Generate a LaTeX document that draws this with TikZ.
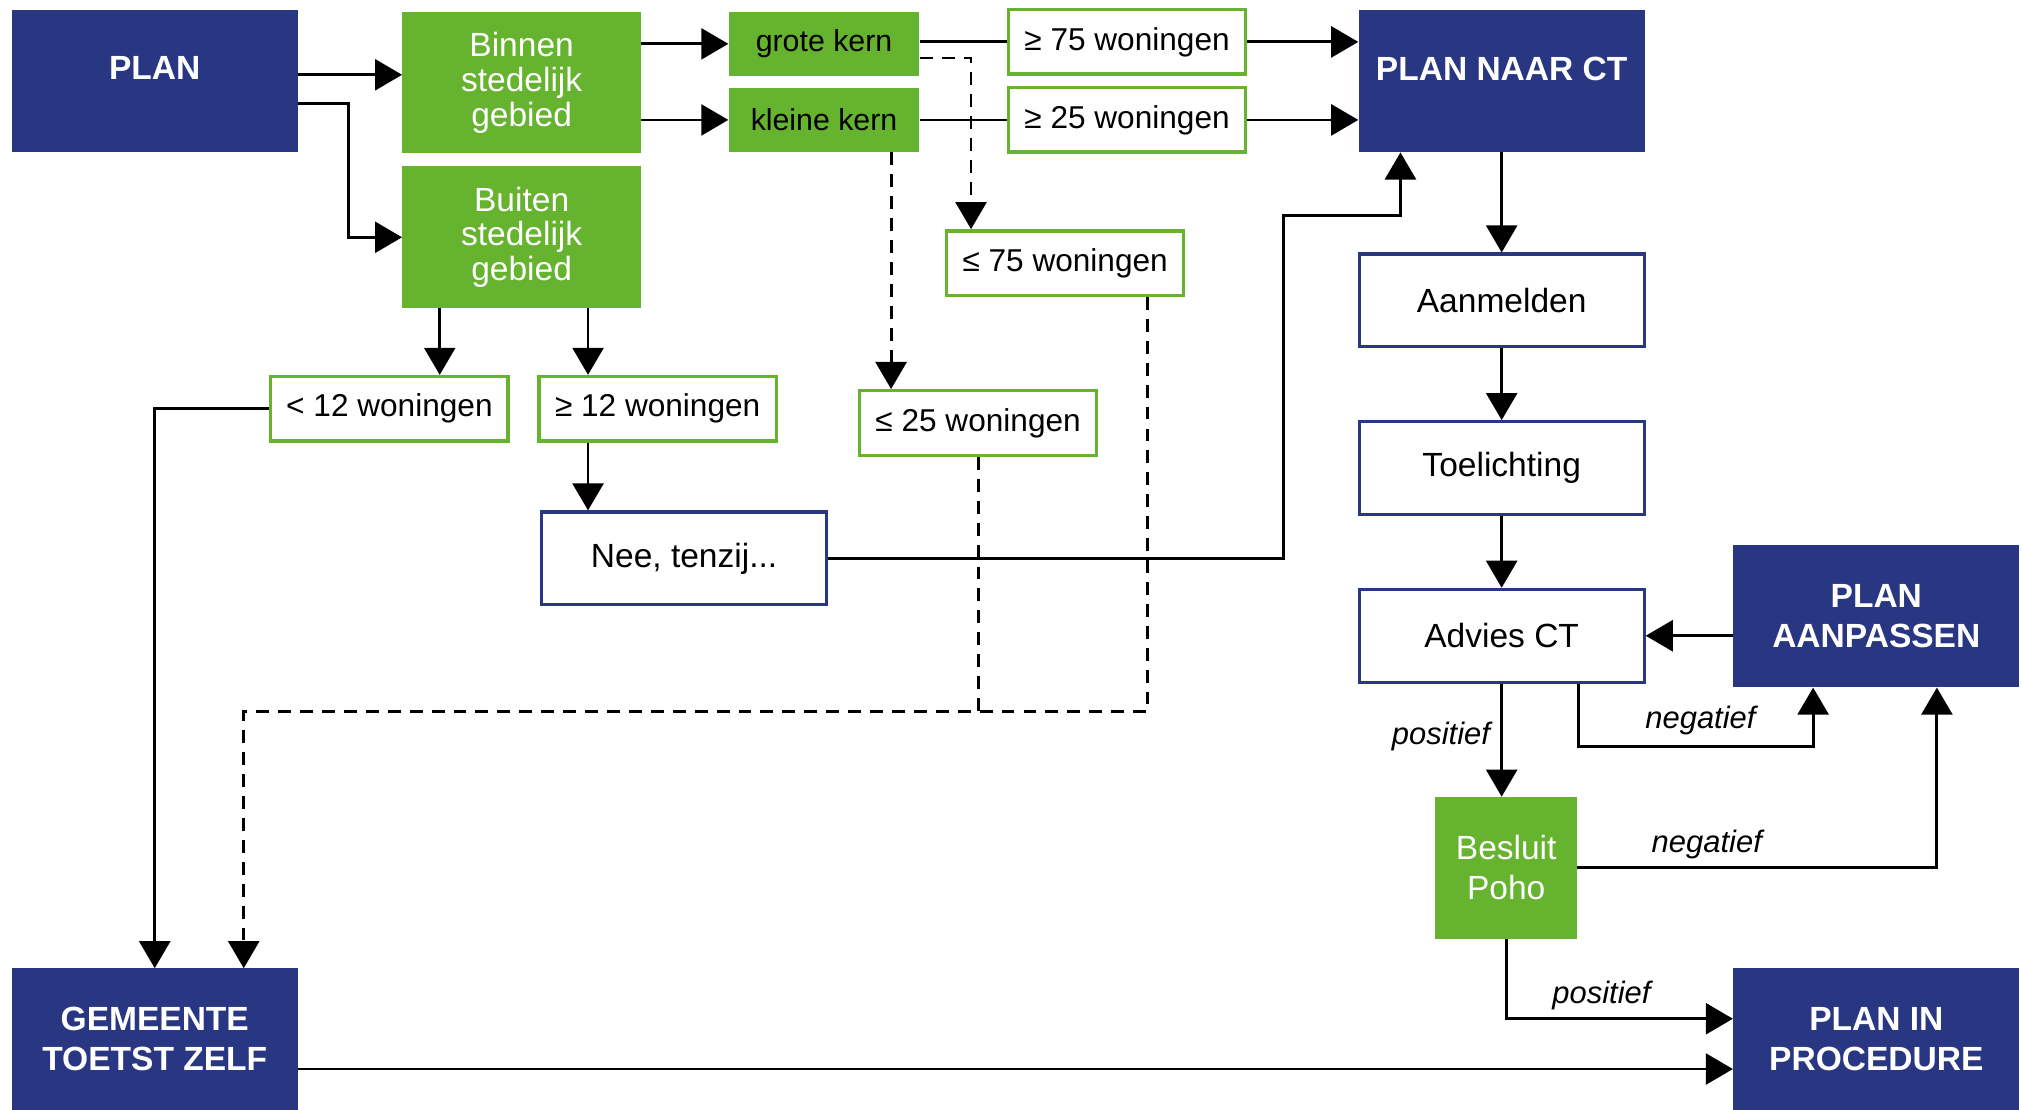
\documentclass[tikz,border=0pt]{standalone}
\usepackage{fontspec}
\setmainfont{Liberation Sans}
\usetikzlibrary{arrows.meta}
\definecolor{ctblue}{RGB}{41,54,130}
\definecolor{ctgreen}{RGB}{101,179,46}

\begin{document}
\begin{tikzpicture}[x=1pt,y=-1pt]
	\tikzset{
		fullblue/.style={fill=ctblue, text=white, minimum width=222pt, minimum height=110pt, inner sep=0pt, align=center, font=\fontsize{26}{31}\selectfont\bfseries},
		fullgreen/.style={fill=ctgreen, text=white, minimum width=185pt, minimum height=110pt, inner sep=0pt, align=center, font=\fontsize{26}{27}\selectfont},
		kern/.style={fill=ctgreen, minimum width=148pt, minimum height=50pt, inner sep=0pt, font=\fontsize{23.5}{27}\selectfont},
		count/.style={draw=ctgreen, line width=2.6pt, fill=white, minimum width=184pt, minimum height=50pt, inner sep=0pt, font=\fontsize{24.5}{28}\selectfont},
		stap/.style={draw=ctblue, line width=2.4pt, fill=white, minimum width=221pt, minimum height=72pt, inner sep=0pt, font=\fontsize{26}{30}\selectfont},
		lijn/.style={line width=2.2pt},
		arr/.style={lijn, -{Triangle[length=21pt, width=24pt]}},
		stip/.style={lijn, dash pattern=on 10pt off 7pt},
		oordeel/.style={font=\fontsize{24}{28}\selectfont\itshape, inner sep=0pt}
	}
	\useasboundingbox (0,0) rectangle (1568,860);
	
	% Plan en gebied
	\node[fullblue, text depth=20pt] (plan) at (120,63) {PLAN};
	\node[fullgreen] (binnen) at (404.5,64) {Binnen\\stedelijk\\gebied};
	\node[fullgreen] (buiten) at (404.5,184) {Buiten\\stedelijk\\gebied};
	\node[kern] (grote) at (639,34) {grote kern};
	\node[kern] (kleine) at (639,93) {kleine kern};
	
	% Aantallen woningen
	\node[count] (ge75) at (874,32.5) {≥ 75 woningen};
	\node[count] (ge25) at (874,93) {≥ 25 woningen};
	\node[count] (le75) at (826,204) {≤ 75 woningen};
	\node[count] (lt12) at (302,317) {< 12 woningen};
	\node[count] (ge12) at (510,317) {≥ 12 woningen};
	\node[count] (le25) at (758.5,328) {≤ 25 woningen};
	\node[stap] (nee) at (530.5,433) {Nee, tenzij...};
	
	% Commissie
	\node[fullblue, text depth=20pt] (pnct) at (1164.5,63) {PLAN NAAR CT};
	\foreach \t/\n [count=\i] in {Aanmelden/aanm, Toelichting/toel, Advies CT/advies}{
		\node[stap] (\n) at (1164.5,103+130*\i) {\t};
	}
	\node[fullblue] (aanp) at (1455,478) {PLAN\\AANPASSEN};
	\node[fullgreen, minimum width=110pt, font=\fontsize{26}{31}\selectfont] (besluit) at (1168,673) {Besluit\\Poho};
	\node[fullblue] (gem) at (120,806) {GEMEENTE\\TOETST ZELF};
	\node[fullblue] (proc) at (1455,806) {PLAN IN\\PROCEDURE};
	
	% Verbindingen links
	\draw[arr] (plan.east |- 0,58) -- (binnen.west |- 0,58);
	\draw[arr] (plan.east |- 0,80) -- (270,80) |- (buiten.west);
	\draw[arr] (binnen.east |- grote.west) -- (grote.west);
	\draw[arr] (binnen.east |- kleine.west) -- (kleine.west);
	\draw[lijn] (grote.east |- ge75.west) -- (ge75.west);
	\draw[arr] (ge75.east) -- (ge75.east -| pnct.west);
	\draw[lijn] (kleine.east) -- (ge25.west);
	\draw[arr] (ge25.east) -- (ge25.east -| pnct.west);
	\draw[stip, -{Triangle[length=21pt, width=24pt]}] (grote.east |- 0,45) -| (753,0 |- le75.north);
	\draw[stip, -{Triangle[length=21pt, width=24pt]}] (kleine.south -| 691,0) -- (691,0 |- le25.north);
	\draw[arr] (341,0 |- buiten.south) -- (341,0 |- lt12.north);
	\draw[arr] (456,0 |- buiten.south) -- (456,0 |- ge12.north);
	\draw[arr] (456,0 |- ge12.south) -- (456,0 |- nee.north);
	\draw[arr] (lt12.west) -| (gem.north);
	\draw[arr] (nee.east) -| (995,167) -| (1086,0 |- pnct.south);
	\draw[stip] (le25.south) -- (le25.south |- 0,552);
	\draw[stip, -{Triangle[length=21pt, width=24pt]}] (890,0 |- le75.south) -- (890,552) -| (189,0 |- gem.north);
	
	% Verbindingen rechts
	\foreach \a/\b in {pnct/aanm, aanm/toel, toel/advies}
		\draw[arr] (\a) -- (\b);
	\draw[arr] (aanp.west |- advies.east) -- (advies.east);
	\draw[arr] (advies.south) -- (advies.south |- besluit.north) node[oordeel, pos=0.47, left=8pt] (pos1) {positief};
	\draw[arr] (1224,0 |- advies.south) -- (1224,579) -| (1406,0 |- aanp.south) node[oordeel, pos=0.26, above=8pt] (neg1) {negatief};
	\draw[arr] (besluit.east) -| (1502,0 |- aanp.south) node[oordeel, pos=0.18, above=6pt] (neg2) {negatief};
	\draw[arr] (besluit.south) |- (proc.west |- 0,790) node[oordeel, pos=0.71, above=6pt] (pos2) {positief};
	\draw[arr] (gem.east |- 0,829) -- (proc.west |- 0,829);
\end{tikzpicture}
\end{document}
